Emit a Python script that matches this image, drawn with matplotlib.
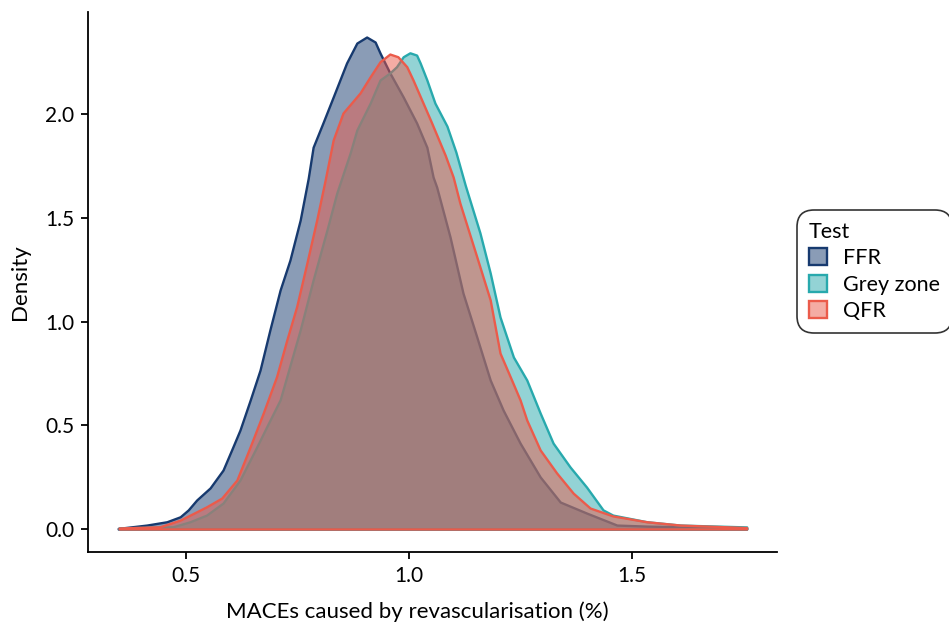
import matplotlib
matplotlib.use("Agg")
from matplotlib import pyplot as plt
from matplotlib.colors import to_rgba
from matplotlib.patches import Patch

# density curves
ffr_x = [0.348, 0.412, 0.457, 0.487, 0.505, 0.524, 0.554, 0.583, 0.605, 0.621,
         0.644, 0.666, 0.688, 0.711, 0.733, 0.756, 0.774, 0.785, 0.807, 0.830,
         0.860, 0.883, 0.905, 0.924, 0.935, 0.957, 0.987, 1.017, 1.040, 1.054,
         1.062, 1.092, 1.121, 1.152, 1.182, 1.211, 1.249, 1.294, 1.339, 1.398,
         1.466, 1.533, 1.757]
ffr_y = [0.003, 0.019, 0.035, 0.059, 0.092, 0.140, 0.198, 0.284, 0.395, 0.477,
         0.622, 0.766, 0.959, 1.152, 1.296, 1.489, 1.690, 1.840, 1.957, 2.082,
         2.246, 2.342, 2.371, 2.347, 2.294, 2.198, 2.082, 1.957, 1.840, 1.696,
         1.648, 1.407, 1.137, 0.925, 0.718, 0.573, 0.414, 0.251, 0.130, 0.077,
         0.019, 0.014, 0.005]

grey_x = [0.350, 0.471, 0.509, 0.546, 0.583, 0.621, 0.659, 0.681, 0.711, 0.756,
          0.785, 0.816, 0.838, 0.868, 0.883, 0.913, 0.935, 0.957, 0.972, 0.987,
          1.002, 1.017, 1.025, 1.040, 1.058, 1.085, 1.105, 1.126, 1.159, 1.182,
          1.204, 1.234, 1.264, 1.294, 1.323, 1.361, 1.398, 1.435, 1.457, 1.533,
          1.608, 1.757]
grey_y = [0.005, 0.011, 0.035, 0.067, 0.125, 0.236, 0.397, 0.493, 0.622, 0.959,
          1.200, 1.441, 1.619, 1.812, 1.923, 2.053, 2.164, 2.198, 2.228, 2.276,
          2.295, 2.284, 2.246, 2.164, 2.053, 1.942, 1.817, 1.657, 1.427, 1.234,
          1.022, 0.829, 0.718, 0.559, 0.414, 0.299, 0.202, 0.092, 0.067, 0.035,
          0.019, 0.010]

qfr_x = [0.350, 0.442, 0.487, 0.546, 0.580, 0.614, 0.644, 0.673, 0.703, 0.726,
         0.748, 0.771, 0.793, 0.812, 0.830, 0.852, 0.890, 0.913, 0.935, 0.957,
         0.975, 0.995, 1.009, 1.049, 1.081, 1.099, 1.114, 1.152, 1.182, 1.204,
         1.230, 1.249, 1.264, 1.294, 1.331, 1.368, 1.406, 1.457, 1.533, 1.608,
         1.757]
qfr_y = [0.005, 0.011, 0.043, 0.107, 0.149, 0.236, 0.397, 0.558, 0.734, 0.911,
         1.071, 1.282, 1.489, 1.682, 1.875, 2.005, 2.101, 2.180, 2.252, 2.289,
         2.276, 2.228, 2.164, 1.966, 1.802, 1.696, 1.571, 1.311, 1.104, 0.848,
         0.718, 0.622, 0.525, 0.381, 0.270, 0.173, 0.101, 0.063, 0.035, 0.019,
         0.007]

tests = ["FFR", "Grey zone", "QFR"]
colours = ["#173a6f", "#28a9ad", "#eb5b4b"]

plt.rcParams["font.family"] = ["Lato", "DejaVu Sans"]

fig = plt.figure(figsize=(9.49, 6.30), dpi=100)
ax = fig.add_axes([88 / 949, 1 - 552 / 630, (777 - 88) / 949, (552 - 12) / 630])

curves = [(ffr_x, ffr_y), (grey_x, grey_y), (qfr_x, qfr_y)]
for (xs, ys), c in zip(curves, colours):
    ax.fill_between(xs, ys, 0, facecolor=to_rgba(c, 0.5), edgecolor=c, linewidth=1.7)

ax.set_xlim(0.2803, 1.825)
ax.set_ylim(-0.1108, 2.4916)
ax.set_xticks([0.5, 1.0, 1.5])
ax.set_yticks([0.0, 0.5, 1.0, 1.5, 2.0])
ax.set_xticklabels(["0.5", "1.0", "1.5"])
ax.set_yticklabels(["0.0", "0.5", "1.0", "1.5", "2.0"])
for s in ["top", "right"]:
    ax.spines[s].set_visible(False)
for s in ["left", "bottom"]:
    ax.spines[s].set_linewidth(1.3)
ax.tick_params(length=5, width=1.3, labelsize=15, pad=5, colors="black")
ax.set_xlabel("MACEs caused by revascularisation (%)", fontsize=16)
ax.xaxis.set_label_coords((417 - 88) / (777 - 88), -(612 - 552) / (552 - 12))
ax.xaxis.label.set_va("center")
ax.set_ylabel("Density", fontsize=16, labelpad=11)

handles = [Patch(facecolor=to_rgba(c, 0.5), edgecolor=c, linewidth=1.7) for c in colours]
leg = fig.legend(handles, tests, title="Test", loc="upper left",
                 bbox_to_anchor=(797 / 949, 1 - 210 / 630), bbox_transform=fig.transFigure,
                 fontsize=15.5, title_fontsize=15.5, frameon=True, fancybox=True,
                 handlelength=0.85, handleheight=0.85, handletextpad=0.75,
                 labelspacing=0.3, borderpad=0.55, borderaxespad=0, alignment="left")
leg.get_frame().set_edgecolor("black")
leg.get_frame().set_linewidth(1.2)
leg.get_frame().set_boxstyle("round", pad=0, rounding_size=0.8)

fig.savefig("out.png", dpi=100)
